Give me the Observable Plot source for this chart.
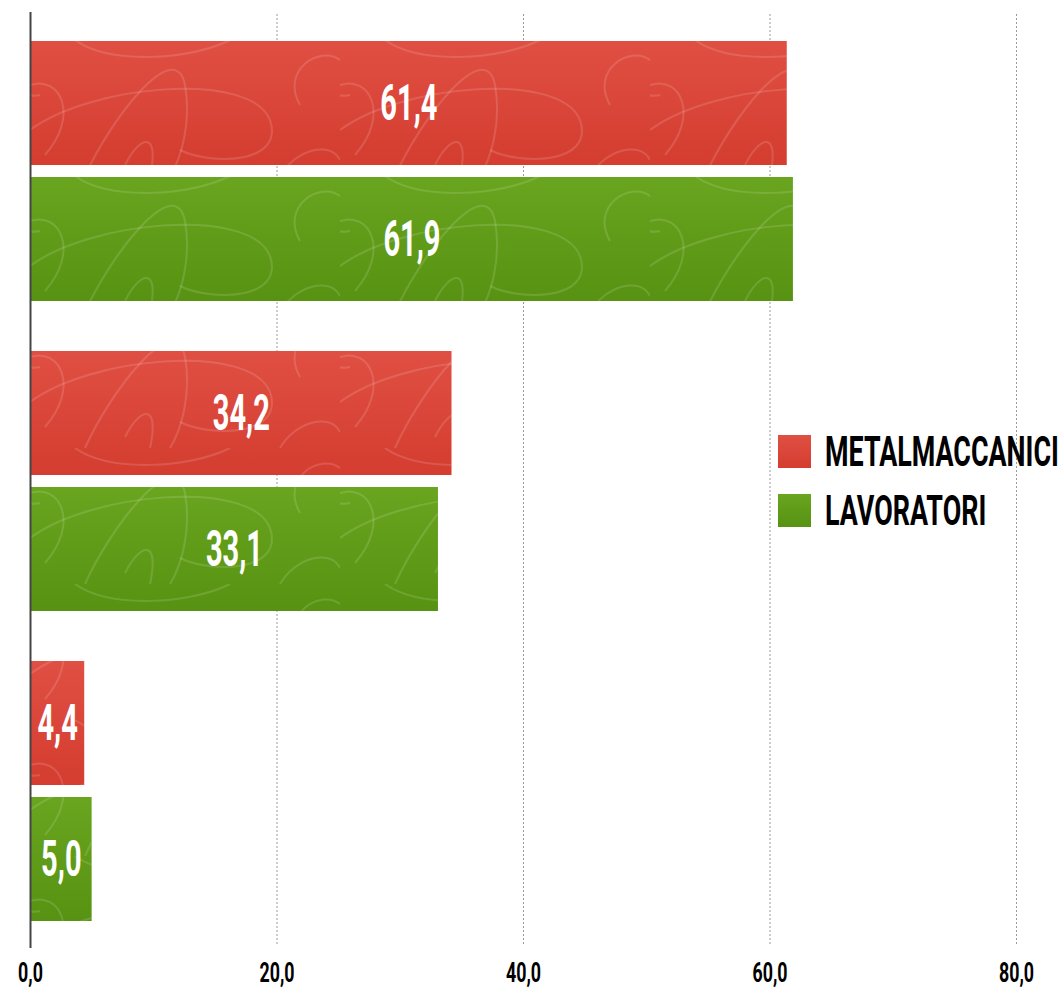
<!DOCTYPE html>
<html>
<head>
<meta charset="utf-8">
<script src="https://cdn.jsdelivr.net/npm/d3@7"></script>
<script src="https://cdn.jsdelivr.net/npm/@observablehq/plot@0.6"></script>
<style>
  html, body { margin: 0; padding: 0; background: #fff; }
  #wrap { position: relative; width: 1063px; height: 989px; }
  #legend { position: absolute; left: 778px; top: 435px; font-family: Roboto, "DejaVu Sans", sans-serif; }
  .item { display: flex; align-items: center; height: 33px; margin-bottom: 26px; white-space: nowrap; }
  .sw { width: 33px; height: 33px; flex: none; }
  .lab { display: inline-block; margin-left: 14px; font-size: 43px; font-weight: 700; color: #000;
         transform: scaleX(0.625); transform-origin: left center; line-height: 33px; }
</style>
</head>
<body>
<div id="wrap"><div id="legend"></div></div>
<script>
const groups = ["Gruppo 1", "Gruppo 2", "Gruppo 3"];
const seriesNames = ["METALMACCANICI", "LAVORATORI"];
const metalmeccaniciValues = [61.4, 34.2, 4.4];
const lavoratoriValues = [61.9, 33.1, 5.0];
const xTicks = [0, 20, 40, 60, 80];
const seriesColors = [["#e04f43", "#d43d30"], ["#69a51f", "#579212"]];

const metalRows = groups.map((g, i) => ({group: g, series: seriesNames[0], value: metalmeccaniciValues[i]}));
const lavRows = groups.map((g, i) => ({group: g, series: seriesNames[1], value: lavoratoriValues[i]}));
const fmt = d => d.toFixed(1).replace(".", ",");
const gradIds = ["gradRed", "gradGreen"];

const chart = Plot.plot({
  width: 1063,
  height: 989,
  marginLeft: 30,
  marginRight: 47,
  marginTop: 14,
  marginBottom: 41,
  style: {fontFamily: "Roboto, 'DejaVu Sans', sans-serif", background: "#fff"},
  x: {domain: [0, 80]},
  y: {domain: groups, axis: null, paddingInner: 0.161, paddingOuter: 0.085},
  marks: [
    Plot.gridX(xTicks.filter(d => d > 0), {stroke: "#9a9a9a", strokeOpacity: 1, strokeWidth: 1, strokeDasharray: "2,2", insetBottom: 3}),
    Plot.barX(metalRows, {x: "value", y: "group", fill: `url(#${gradIds[0]})`, insetBottom: 136}),
    Plot.barX(lavRows, {x: "value", y: "group", fill: `url(#${gradIds[1]})`, insetTop: 136}),
    Plot.barX(metalRows, {x: "value", y: "group", fill: "url(#swirl)", insetBottom: 136}),
    Plot.barX(lavRows, {x: "value", y: "group", fill: "url(#swirl)", insetTop: 136}),
    Plot.text(metalRows, {x: d => d.value / 2, y: "group", dy: -68, text: d => fmt(d.value), fill: "#fff", fontSize: 50, fontWeight: 700}),
    Plot.text(lavRows, {x: d => d.value / 2, y: "group", dy: 68, text: d => fmt(d.value), fill: "#fff", fontSize: 50, fontWeight: 700}),
    Plot.ruleX([0], {stroke: "#444", strokeWidth: 2, insetTop: -2}),
    Plot.axisX(xTicks, {tickFormat: fmt, tickSize: 0, tickPadding: 14, fontSize: 27, fontWeight: 700, fill: "#000", label: null})
  ]
});

// gradients and texture
const defs = d3.select(chart).insert("defs", ":first-child");
gradIds.forEach((id, i) => {
  const lg = defs.append("linearGradient").attr("id", id).attr("x1", 0).attr("y1", 0).attr("x2", 0).attr("y2", 1);
  lg.append("stop").attr("offset", "0%").attr("stop-color", seriesColors[i][0]);
  lg.append("stop").attr("offset", "100%").attr("stop-color", seriesColors[i][1]);
});
const pat = defs.append("pattern").attr("id", "swirl").attr("patternUnits", "userSpaceOnUse")
  .attr("x", 30).attr("y", 40).attr("width", 310).attr("height", 136);
pat.append("g").attr("fill", "none").attr("stroke", "#fff").attr("stroke-opacity", 0.13).attr("stroke-width", 2)
  .selectAll("path")
  .data([
    "M0,90 C60,45 220,30 240,80 C255,125 180,125 150,110",
    "M55,136 C80,80 145,-5 155,45 C162,85 150,120 140,136",
    "M0,45 C30,35 50,75 15,115",
    "M45,0 C80,25 160,20 200,0",
    "M270,65 C250,30 290,5 310,20",
    "M0,20 C-20,40 -10,60 10,55",
    "M250,136 C265,110 300,100 310,120",
    "M95,125 C110,95 130,90 120,136"
  ])
  .join("path").attr("d", d => d);

document.getElementById("wrap").prepend(chart);

// condense text horizontally
chart.querySelectorAll("text").forEach(t => {
  const fsEl = t.closest("[font-size]");
  const fs = fsEl ? +fsEl.getAttribute("font-size") : 10;
  const s = fs >= 40 ? 0.58 : 0.66;
  const x = +(t.getAttribute("x") || 0);
  t.removeAttribute("x");
  const tr = t.getAttribute("transform") || "";
  t.setAttribute("transform", `${tr} translate(${x},0) scale(${s},1)`);
});

// legend
const legend = d3.select("#legend");
seriesNames.forEach((name, i) => {
  const it = legend.append("div").attr("class", "item");
  it.append("div").attr("class", "sw")
    .style("background", `linear-gradient(to bottom, ${seriesColors[i][0]}, ${seriesColors[i][1]})`);
  it.append("span").attr("class", "lab").text(name);
});
</script>
</body>
</html>
